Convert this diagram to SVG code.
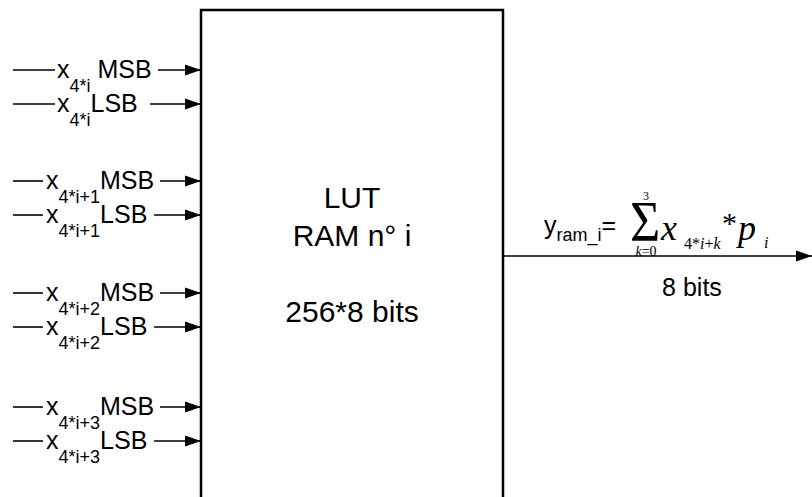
<svg xmlns="http://www.w3.org/2000/svg" width="812" height="497" viewBox="0 0 812 497">
<style>
.s{font-family:"Liberation Sans",Arial,sans-serif;fill:#000}
.lbl{font-size:25px}
.sub{font-size:18px}
.big{font-size:30px}
.r{font-family:"Liberation Serif","Times New Roman",serif;fill:#000}
.i{font-style:italic}
.ln{stroke:#000;stroke-width:1.6;fill:none}
</style>
<defs>
<marker id="ah" viewBox="0 0 16 12" refX="16" refY="6" markerWidth="16" markerHeight="12" markerUnits="userSpaceOnUse" orient="auto">
<path d="M0,0.5 L16,6 L0,11.5 Z" fill="#000"/>
</marker>
</defs>
<rect width="812" height="497" fill="#fff"/>
<g id="lut">
<path d="M201,505 V10 H503 V505" fill="#fff" stroke="#000" stroke-width="2.5"/>
<text class="s big" x="352" y="208" text-anchor="middle">LUT</text>
<text class="s big" x="352" y="246" text-anchor="middle">RAM n° i</text>
<text class="s big" x="352" y="322" text-anchor="middle">256*8 bits</text>
</g>
<g id="connectors">
<line class="ln" x1="13" y1="70" x2="55" y2="70"/><line class="ln" x1="158" y1="70" x2="201" y2="70" marker-end="url(#ah)"/>
<line class="ln" x1="13" y1="104" x2="55" y2="104"/><line class="ln" x1="150" y1="104" x2="201" y2="104" marker-end="url(#ah)"/>
<line class="ln" x1="13" y1="181" x2="43" y2="181"/><line class="ln" x1="160" y1="181" x2="201" y2="181" marker-end="url(#ah)"/>
<line class="ln" x1="13" y1="215" x2="43" y2="215"/><line class="ln" x1="154" y1="215" x2="201" y2="215" marker-end="url(#ah)"/>
<line class="ln" x1="13" y1="293" x2="43" y2="293"/><line class="ln" x1="160" y1="293" x2="201" y2="293" marker-end="url(#ah)"/>
<line class="ln" x1="13" y1="327" x2="43" y2="327"/><line class="ln" x1="154" y1="327" x2="201" y2="327" marker-end="url(#ah)"/>
<line class="ln" x1="13" y1="407" x2="43" y2="407"/><line class="ln" x1="160" y1="407" x2="201" y2="407" marker-end="url(#ah)"/>
<line class="ln" x1="13" y1="441" x2="43" y2="441"/><line class="ln" x1="154" y1="441" x2="201" y2="441" marker-end="url(#ah)"/>
<line class="ln" x1="503" y1="256" x2="812" y2="256" marker-end="url(#ah)"/>
</g>
<g id="inputs">
<text class="s lbl" x="57" y="78">x<tspan class="sub" dy="14">4*i</tspan><tspan dy="-14"> MSB</tspan></text>
<text class="s lbl" x="57" y="112">x<tspan class="sub" dy="14">4*i</tspan><tspan dy="-14">LSB</tspan></text>
<text class="s lbl" x="46" y="189">x<tspan class="sub" dy="14">4*i+1</tspan><tspan dy="-14">MSB</tspan></text>
<text class="s lbl" x="46" y="223">x<tspan class="sub" dy="14">4*i+1</tspan><tspan dy="-14">LSB</tspan></text>
<text class="s lbl" x="46" y="301">x<tspan class="sub" dy="14">4*i+2</tspan><tspan dy="-14">MSB</tspan></text>
<text class="s lbl" x="46" y="335">x<tspan class="sub" dy="14">4*i+2</tspan><tspan dy="-14">LSB</tspan></text>
<text class="s lbl" x="46" y="415">x<tspan class="sub" dy="14">4*i+3</tspan><tspan dy="-14">MSB</tspan></text>
<text class="s lbl" x="46" y="449">x<tspan class="sub" dy="14">4*i+3</tspan><tspan dy="-14">LSB</tspan></text>
</g>
<g id="output">
<text class="s lbl" x="544" y="234">y<tspan class="sub" dy="7">ram_i</tspan><tspan dy="-7">=</tspan></text>
<text class="r" transform="translate(630,241) scale(1,1.1)" font-size="52">Σ</text>
<text class="r" x="646" y="200" font-size="12" text-anchor="middle">3</text>
<text class="r" x="646" y="256" font-size="14" text-anchor="middle"><tspan class="i">k</tspan>=0</text>
<text class="r i" x="661" y="240" font-size="36">x</text>
<text class="r" x="684" y="249" font-size="16">4*<tspan class="i">i</tspan>+<tspan class="i">k</tspan></text>
<text class="r" x="722" y="233" font-size="30">*</text>
<text class="r i" x="738" y="240" font-size="36">p</text>
<text class="r i" x="764" y="248" font-size="16">i</text>
<text class="s" x="692" y="296" font-size="25" text-anchor="middle">8 bits</text>
</g>
</svg>
